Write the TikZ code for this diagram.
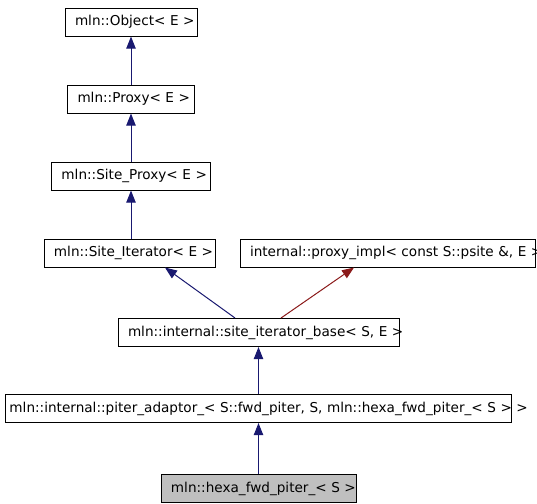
\documentclass[tikz,border=0pt]{standalone}
\usepackage{fontspec}
\setmainfont{DejaVu Sans}
\usetikzlibrary{arrows.meta}

\definecolor{navy}{HTML}{191970}
\definecolor{darkred}{HTML}{8B1A1A}

\begin{document}
\begin{tikzpicture}[x=0.75pt, y=-0.75pt,
  cls/.style={draw, line width=0.75pt, text width=#1, align=left,
    inner xsep=7.5pt, inner ysep=0pt, minimum height=21pt, font=\fontsize{10.2pt}{12pt}\selectfont},
  inh/.style={draw=navy, line width=0.75pt, -{Triangle[length=9pt,width=7pt]}},
  tmpl/.style={draw=darkred, line width=0.75pt, -{Triangle[length=9pt,width=7pt]}}]

\useasboundingbox (0,0) rectangle (537,504);

\node[cls=84pt] (obj) at (131, 22) {\mbox{mln::Object< E >}};
\node[cls=80.25pt] (proxy) at (131, 99) {\mbox{mln::Proxy< E >}};
\node[cls=104.25pt] (sproxy) at (131, 176) {\mbox{mln::Site\_Proxy< E >}};
\node[cls=113.25pt] (siter) at (129.5, 253) {\mbox{mln::Site\_Iterator< E >}};
\node[cls=206.25pt] (pimpl) at (387.5, 253) {\mbox{internal::proxy\_impl< const S::psite \&, E >}};
\node[cls=195.75pt] (base) at (258.5, 332.5) {\mbox{mln::internal::site\_iterator\_base< S, E >}};
\node[cls=373.5pt, inner xsep=3pt] (piter) at (258.5, 408.5) {\mbox{mln::internal::piter\_adaptor\_< S::fwd\_piter, S, mln::hexa\_fwd\_piter\_< S > >}};
\node[cls=131.25pt, fill=black!25] (hexa) at (258.5, 488.5) {\mbox{mln::hexa\_fwd\_piter\_< S >}};

\draw[inh] (proxy) -- (obj);
\draw[inh] (sproxy) -- (proxy);
\draw[inh] (siter.north -| sproxy.south) -- (sproxy);
\draw[inh] ([xshift=-17.6pt]base.north) -- ([xshift=26.6pt]siter.south);
\draw[tmpl] ([xshift=16.9pt]base.north) -- ([xshift=-25.1pt]pimpl.south);
\draw[inh] (piter) -- (base);
\draw[inh] (hexa) -- (piter);

\end{tikzpicture}
\end{document}
